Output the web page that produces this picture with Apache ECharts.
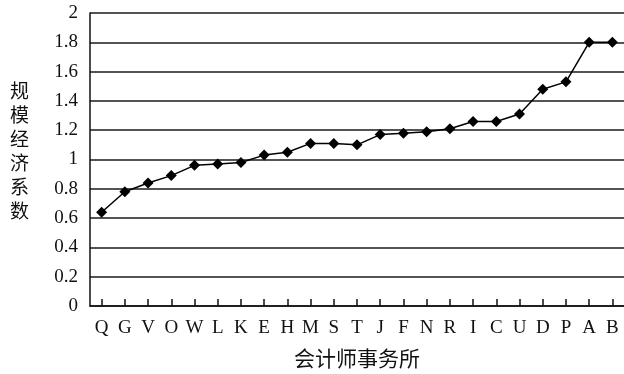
<!DOCTYPE html>
<html><head><meta charset="utf-8">
<script src="https://cdn.jsdelivr.net/npm/echarts@6/dist/echarts.min.js"></script>
<style>html,body{margin:0;padding:0;background:#fff}#c{width:624px;height:374px}</style>
</head><body><div id="c"></div>
<script>
const categories = ['Q','G','V','O','W','L','K','E','H','M','S','T','J','F','N','R','I','C','U','D','P','A','B'];
const values = [0.64,0.78,0.84,0.89,0.96,0.97,0.98,1.03,1.05,1.11,1.11,1.10,1.17,1.18,1.19,1.21,1.26,1.26,1.31,1.48,1.53,1.80,1.80];
const yTicks = [0,0.2,0.4,0.6,0.8,1,1.2,1.4,1.6,1.8,2];
const xTitle = '会计师事务所';
const yTitle = '规模经济系数';

const serif = '"Liberation Serif", "DejaVu Serif", serif';
const cjk = '"Noto Sans CJK SC", sans-serif';
const chart = echarts.init(document.getElementById('c'));
chart.setOption({
  animation: false,
  backgroundColor: '#fff',
  grid: {left: 90, right: 0, top: 13, bottom: 68, containLabel: false},
  graphic: [{
    type: 'text', left: 10, top: 79,
    style: {text: yTitle.split('').join('\n'), font: '19px ' + cjk, fill: '#111', lineHeight: 24}
  }],
  xAxis: {
    type: 'category',
    data: categories,
    boundaryGap: true,
    name: xTitle,
    nameLocation: 'middle',
    nameGap: 42,
    nameTextStyle: {fontFamily: cjk, fontSize: 21, color: '#111'},
    axisLine: {lineStyle: {color: '#111', width: 1.5}},
    axisTick: {show: true, inside: true, alignWithLabel: true, length: 7, lineStyle: {color: '#111', width: 1.5}},
    axisLabel: {fontFamily: serif, fontSize: 19, color: '#111', margin: 13, interval: 0},
    splitLine: {show: false}
  },
  yAxis: {
    type: 'value',
    min: 0, max: 2, interval: 0.2,
    axisLine: {show: true, lineStyle: {color: '#111', width: 1.5}},
    axisTick: {show: false},
    axisLabel: {fontFamily: serif, fontSize: 19, color: '#111', margin: 12,
      formatter: v => { const t = yTicks.find(x => Math.abs(x - v) < 1e-9); return t === undefined ? '' : String(t); }},
    splitLine: {show: true, lineStyle: {color: '#1a1a1a', width: 1.5}}
  },
  series: [{
    type: 'line',
    data: values,
    symbol: 'diamond',
    symbolSize: 11,
    lineStyle: {color: '#000', width: 1.5},
    itemStyle: {color: '#000'}
  }]
});
</script></body></html>
